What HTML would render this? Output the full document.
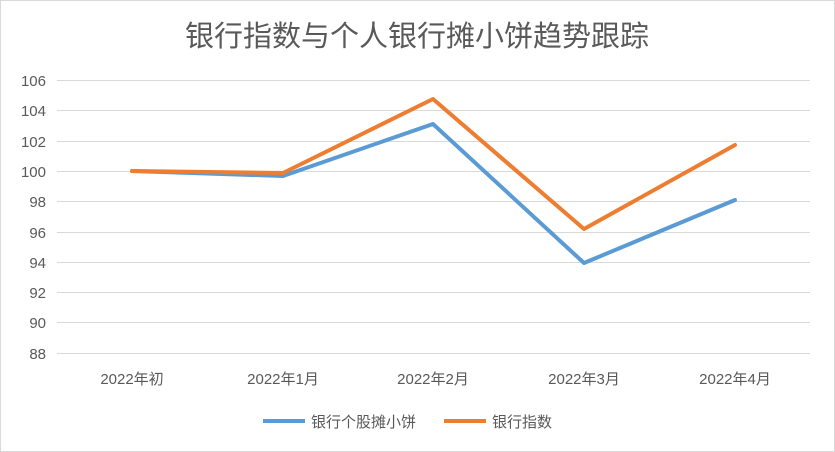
<!DOCTYPE html>
<html><head><meta charset="utf-8"><style>
html,body{margin:0;padding:0;background:#fff;}
</style></head><body>
<svg width="835" height="452" xmlns="http://www.w3.org/2000/svg" style="display:block">
<rect x="0.5" y="0.5" width="834" height="451" fill="#fff" stroke="#d9d9d9"/>
<text x="417" y="46" text-anchor="middle" font-family="Liberation Sans, Noto Sans CJK SC, sans-serif" font-size="29" fill="#595959">银行指数与个人银行摊小饼趋势跟踪</text>
<g stroke="#d9d9d9" stroke-width="1">
<line x1="57" x2="810" y1="80.5" y2="80.5"/>
<line x1="57" x2="810" y1="110.5" y2="110.5"/>
<line x1="57" x2="810" y1="141.5" y2="141.5"/>
<line x1="57" x2="810" y1="171.5" y2="171.5"/>
<line x1="57" x2="810" y1="201.5" y2="201.5"/>
<line x1="57" x2="810" y1="232.5" y2="232.5"/>
<line x1="57" x2="810" y1="262.5" y2="262.5"/>
<line x1="57" x2="810" y1="292.5" y2="292.5"/>
<line x1="57" x2="810" y1="322.5" y2="322.5"/>
<line x1="57" x2="810" y1="353.5" y2="353.5"/>
</g>
<g font-family="Liberation Sans, Noto Sans CJK SC, sans-serif" font-size="15" fill="#595959" text-anchor="end">
<text x="46" y="86">106</text><text x="46" y="116">104</text><text x="46" y="147">102</text>
<text x="46" y="177">100</text><text x="46" y="207">98</text><text x="46" y="238">96</text>
<text x="46" y="268">94</text><text x="46" y="298">92</text><text x="46" y="328">90</text><text x="46" y="359">88</text>
</g>
<g font-family="Liberation Sans, Noto Sans CJK SC, sans-serif" font-size="15" fill="#595959" text-anchor="middle">
<text x="132" y="384">2022年初</text><text x="283" y="384">2022年1月</text><text x="433" y="384">2022年2月</text>
<text x="584" y="384">2022年3月</text><text x="735" y="384">2022年4月</text>
</g>
<polyline fill="none" stroke="#5b9bd5" stroke-width="4" stroke-linejoin="round" stroke-linecap="round" points="132,171 283,176 433,124 584,263 735,200"/>
<polyline fill="none" stroke="#ed7d31" stroke-width="4" stroke-linejoin="round" stroke-linecap="round" points="132,171 283,173 433,99 584,229 735,145"/>
<line x1="263" x2="305" y1="421" y2="421" stroke="#5b9bd5" stroke-width="4"/>
<text x="311" y="427" font-family="Liberation Sans, Noto Sans CJK SC, sans-serif" font-size="15" fill="#595959">银行个股摊小饼</text>
<line x1="444" x2="486" y1="421" y2="421" stroke="#ed7d31" stroke-width="4"/>
<text x="492" y="427" font-family="Liberation Sans, Noto Sans CJK SC, sans-serif" font-size="15" fill="#595959">银行指数</text>
</svg>
</body></html>
